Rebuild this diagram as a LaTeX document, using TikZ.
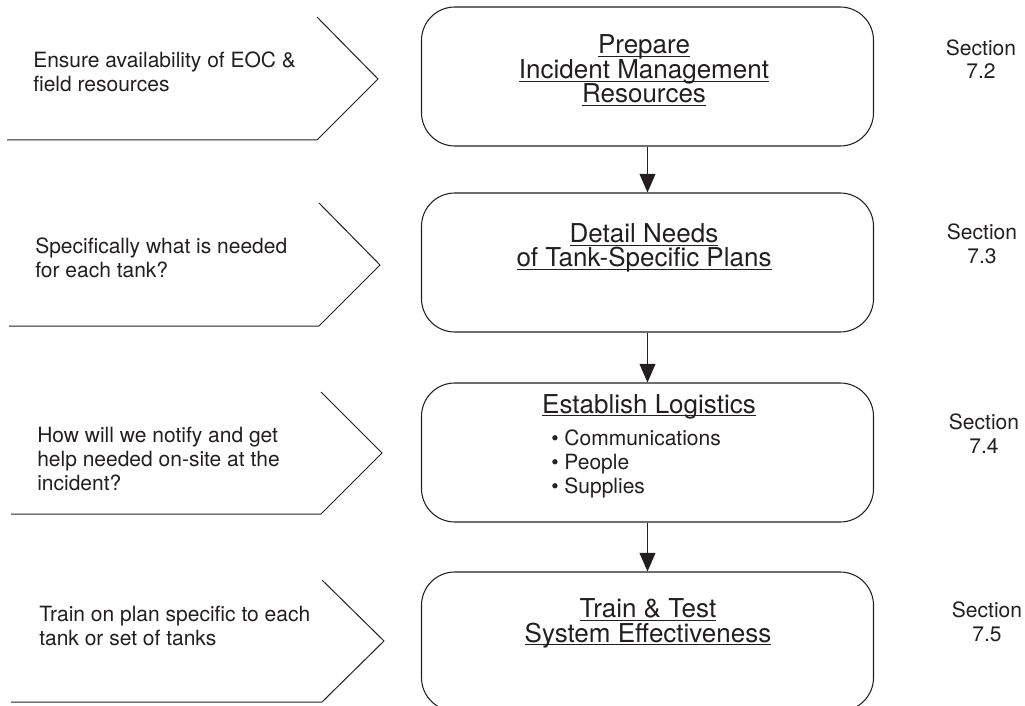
\documentclass[tikz,border=0pt]{standalone}
\usepackage{fontspec}
\setmainfont{TeX Gyre Heros}
\usepackage{tikz}
\usetikzlibrary{arrows.meta,positioning}
\definecolor{ink}{RGB}{35,31,32}

% underline that does not push the lines apart
\newbox\undlbox
\newcommand{\undl}[1]{\setbox\undlbox=\hbox{#1}\rlap{\smash{\rule[-2.6pt]{\wd\undlbox}{0.8pt}}}\box\undlbox}

\begin{document}
\begin{tikzpicture}[x=0.75pt,y=0.75pt,yscale=-1,xscale=1,
  stepbox/.style={draw=ink, line width=0.8pt, rounded corners=25pt, inner sep=0pt,
    minimum width=339pt, minimum height=104.25pt},
  title/.style={text=ink, inner sep=0pt, align=center, anchor=base,
    font={\fontsize{19.5}{18.5}\selectfont\lineskiplimit=-20pt}},
  items/.style={text=ink, inner sep=0pt, align=left, anchor=base west,
    font={\fontsize{15.75}{18}\selectfont}},
  note/.style={text=ink, inner sep=0pt, align=left, anchor=base west,
    font={\fontsize{15.75}{18}\selectfont}},
  sect/.style={text=ink, inner sep=0pt, align=center, anchor=base,
    font={\fontsize{15.75}{17.6}\selectfont}},
  pointer/.style={draw=ink, line width=0.75pt},
  flow/.style={draw=ink, line width=0.75pt, -{Triangle[length=14pt, width=12pt]}}]
\useasboundingbox (0,0) rectangle (1025,706);

%Shape: Pointer [id:ptr1]
\draw [pointer] (317,17) -- (378,79) -- (317,140) -- (7,140) ;
%Shape: Pointer [id:ptr2]
\draw [pointer] (319,203) -- (380,265) -- (319,326) -- (9,326) ;
%Shape: Pointer [id:ptr3]
\draw [pointer] (321,392) -- (382,453) -- (321,514) -- (11,514) ;
%Shape: Pointer [id:ptr4]
\draw [pointer] (322,580) -- (384,641) -- (322,702) -- (11,702) ;

%Shape: Rounded Rect [id:box1]
\node [stepbox] (b1) at (647.5,76.5) {};
%Shape: Rounded Rect [id:box2]
\node [stepbox] (b2) at (647.5,262.5) {};
%Shape: Rounded Rect [id:box3]
\node [stepbox] (b3) at (647.5,452.5) {};
%Shape: Rounded Rect [id:box4]
\node [stepbox] (b4) at (647.5,641.5) {};

%Straight Lines [id:flow12]
\draw [flow] (b1) -- (b2) ;
%Straight Lines [id:flow23]
\draw [flow] (b2) -- (b3) ;
%Straight Lines [id:flow34]
\draw [flow] (b3) -- (b4) ;

% Text Node (anchored at the baseline of the last line)
\node [note] (n1) at (33,92) {Ensure availability of EOC \&\\field resources};
% Text Node
\node [note] (n2) at (35,277) {Specifically what is needed\\for each tank?};
% Text Node
\node [note] (n3) at (37,490) {How will we notify and get\\help needed on-site at the\\incident?};
% Text Node
\node [note] (n4) at (39,645) {Train on plan specific to each\\tank or set of tanks};

% Text Node
\node [title] (t1) at (644,103) {\undl{Prepare}\\\undl{Incident Management}\\\undl{Resources}};
% Text Node
\node [title] (t2) at (644,267) {\undl{Detail Needs}\\\undl{of Tank-Specific Plans}};
% Text Node
\node [title] (t3) at (649,413) {\undl{Establish Logistics}};
% Text Node
\node [items] (l3) at (551,493) {• Communications\\• People\\• Supplies};
% Text Node
\node [title] (t4) at (648,642) {\undl{Train \& Test}\\\undl{System Effectiveness}};

% Text Node
\node [sect] (s1) at (981,79) {Section\\7.2};
% Text Node
\node [sect] (s2) at (982,263) {Section\\7.3};
% Text Node
\node [sect] (s3) at (984,453) {Section\\7.4};
% Text Node
\node [sect] (s4) at (987,641) {Section\\7.5};

\end{tikzpicture}
\end{document}
